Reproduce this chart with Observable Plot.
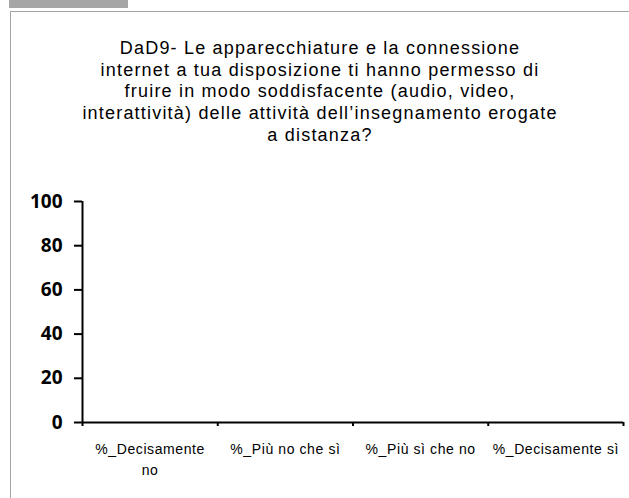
<!DOCTYPE html>
<html>
<head>
<meta charset="utf-8">
<script src="https://cdn.jsdelivr.net/npm/d3@7"></script>
<script src="https://cdn.jsdelivr.net/npm/@observablehq/plot@0.6"></script>
<style>
  html, body { margin: 0; padding: 0; background: #fff; overflow: hidden; }
  #wrap { position: relative; width: 629px; height: 498px; overflow: hidden; background: #fff; }
  #tab { position: absolute; left: 9px; top: 0; width: 119px; height: 8px; background: #a6a6a6; }
  #border { position: absolute; left: 10px; top: 11px; width: 700px; height: 600px; border-top: 1px solid #a3a3a3; border-left: 1px solid #a3a3a3; }
  #chart { position: absolute; left: 0; top: 0; }
  #chart g[aria-label="x-axis tick label"] { letter-spacing: 0.6px; }
  #title { position: absolute; left: 20px; width: 600px; top: 38px; text-align: center;
    font-family: "Liberation Sans", Arial, sans-serif; font-size: 18px; line-height: 21.7px; color: #000; letter-spacing: 1.2px; }
</style>
</head>
<body>
<div id="wrap">
  <div id="tab"></div>
  <div id="border"></div>
  <div id="chart"></div>
  <div id="title">DaD9- Le apparecchiature e la connessione<br>internet a tua disposizione ti hanno permesso di<br>fruire in modo soddisfacente (audio, video,<br>interattività) delle attività dell’insegnamento erogate<br>a distanza?</div>
</div>
<script>
const categories = ["%_Decisamente no", "%_Più no che sì", "%_Più sì che no", "%_Decisamente sì"];
const tickLabels = ["%_Decisamente\nno", "%_Più no che sì", "%_Più sì che no", "%_Decisamente sì"];
const values = [0, 0, 0, 0];
const yTicks = [0, 20, 40, 60, 80, 100];

const data = categories.map((c, i) => ({i, category: c, value: values[i]}));
const centers = categories.map((c, i) => i + 0.5);
const bounds = d3.range(categories.length + 1);

const plot = Plot.plot({
  width: 629,
  height: 498,
  marginTop: 201,
  marginBottom: 76,
  marginLeft: 82,
  marginRight: 6,
  style: {background: "transparent", color: "#000", overflow: "visible"},
  x: {type: "linear", domain: [0, categories.length], axis: null},
  y: {domain: [0, 100], axis: null},
  marks: [
    Plot.rectY(data, {x1: "i", x2: d => d.i + 1, y: "value", fill: "#4f81bd", insetLeft: 30, insetRight: 30}),
    Plot.axisY({ticks: yTicks, label: null, tickSize: 8, tickPadding: 12, strokeWidth: 2,
      fontSize: 19, fontWeight: "bold", fontFamily: "Open Sans, Liberation Sans, sans-serif", tickFormat: d => d}),
    Plot.axisX({ticks: bounds, label: null, tickSize: 4, strokeWidth: 2, tickFormat: () => ""}),
    Plot.axisX({ticks: centers, label: null, tickSize: 0, tickPadding: 17, fontSize: 14, lineHeight: 1.5,
      fontFamily: "Liberation Sans, Arial, sans-serif",
      tickFormat: d => tickLabels[Math.floor(d)]}),
    Plot.ruleX([0], {y1: 0, y2: 100, stroke: "#000", strokeWidth: 2}),
    Plot.ruleY([0], {stroke: "#000", strokeWidth: 2})
  ]
});
document.getElementById("chart").appendChild(plot);
</script>
</body>
</html>
